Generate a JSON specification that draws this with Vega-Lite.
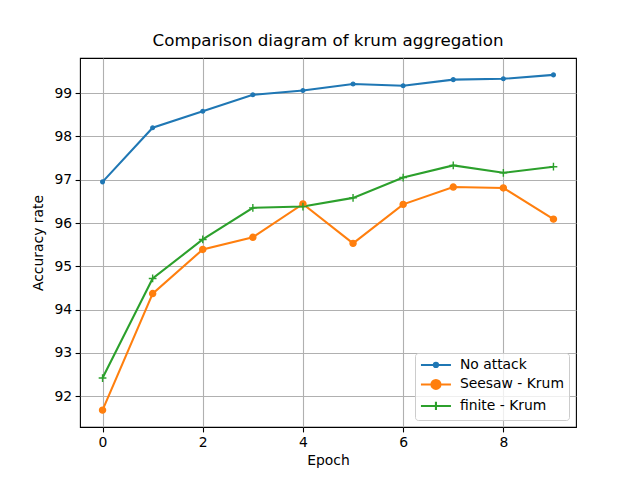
{
  "$schema": "https://vega.github.io/schema/vega-lite/v6.json",
  "width": 496,
  "height": 369,
  "autosize": "none",
  "padding": {"left": 80, "top": 58, "right": 64, "bottom": 53},
  "background": "white",
  "title": {"text": "Comparison diagram of krum aggregation", "font": "DejaVu Sans", "fontSize": 16.7, "fontWeight": "normal", "color": "black", "offset": 8, "anchor": "middle"},
  "config": {
    "view": {"stroke": "black", "strokeWidth": 1.1},
    "axis": {
      "labelFont": "DejaVu Sans", "labelFontSize": 13.9, "labelColor": "black",
      "titleFont": "DejaVu Sans", "titleFontSize": 13.9, "titleColor": "black", "titleFontWeight": "normal",
      "tickColor": "black", "tickSize": 4.9, "tickWidth": 1.1, "labelPadding": 3.5,
      "domain": false, "grid": true, "gridColor": "#b0b0b0", "gridWidth": 1.1
    },
    "legend": {
      "labelFont": "DejaVu Sans", "labelFontSize": 13.9, "labelColor": "black"
    }
  },
  "resolve": {"scale": {"color": "independent", "shape": "independent", "stroke": "independent", "size": "independent"}},
  "data": {"values": [
    {"epoch": 0, "acc": 96.95, "series": "No attack"},
    {"epoch": 1, "acc": 98.20, "series": "No attack"},
    {"epoch": 2, "acc": 98.58, "series": "No attack"},
    {"epoch": 3, "acc": 98.96, "series": "No attack"},
    {"epoch": 4, "acc": 99.06, "series": "No attack"},
    {"epoch": 5, "acc": 99.21, "series": "No attack"},
    {"epoch": 6, "acc": 99.17, "series": "No attack"},
    {"epoch": 7, "acc": 99.31, "series": "No attack"},
    {"epoch": 8, "acc": 99.33, "series": "No attack"},
    {"epoch": 9, "acc": 99.42, "series": "No attack"},
    {"epoch": 0, "acc": 91.68, "series": "Seesaw - Krum"},
    {"epoch": 1, "acc": 94.37, "series": "Seesaw - Krum"},
    {"epoch": 2, "acc": 95.39, "series": "Seesaw - Krum"},
    {"epoch": 3, "acc": 95.67, "series": "Seesaw - Krum"},
    {"epoch": 4, "acc": 96.44, "series": "Seesaw - Krum"},
    {"epoch": 5, "acc": 95.53, "series": "Seesaw - Krum"},
    {"epoch": 6, "acc": 96.43, "series": "Seesaw - Krum"},
    {"epoch": 7, "acc": 96.83, "series": "Seesaw - Krum"},
    {"epoch": 8, "acc": 96.81, "series": "Seesaw - Krum"},
    {"epoch": 9, "acc": 96.09, "series": "Seesaw - Krum"},
    {"epoch": 0, "acc": 92.42, "series": "finite - Krum"},
    {"epoch": 1, "acc": 94.72, "series": "finite - Krum"},
    {"epoch": 2, "acc": 95.62, "series": "finite - Krum"},
    {"epoch": 3, "acc": 96.35, "series": "finite - Krum"},
    {"epoch": 4, "acc": 96.38, "series": "finite - Krum"},
    {"epoch": 5, "acc": 96.58, "series": "finite - Krum"},
    {"epoch": 6, "acc": 97.05, "series": "finite - Krum"},
    {"epoch": 7, "acc": 97.33, "series": "finite - Krum"},
    {"epoch": 8, "acc": 97.16, "series": "finite - Krum"},
    {"epoch": 9, "acc": 97.30, "series": "finite - Krum"}
  ]},
  "encoding": {
    "x": {"field": "epoch", "type": "quantitative", "title": "Epoch",
      "scale": {"domain": [-0.45, 9.45], "nice": false, "zero": false},
      "axis": {"values": [0, 2, 4, 6, 8], "titlePadding": 4}},
    "y": {"field": "acc", "type": "quantitative", "title": "Accuracy rate",
      "scale": {"domain": [91.29, 99.81], "nice": false, "zero": false},
      "axis": {"values": [92, 93, 94, 95, 96, 97, 98, 99], "titlePadding": 8}}
  },
  "layer": [
    {
      "mark": {"type": "line", "strokeWidth": 2.08},
      "encoding": {
        "color": {"field": "series", "type": "nominal",
          "scale": {"domain": ["No attack", "Seesaw - Krum", "finite - Krum"], "range": ["#1f77b4", "#ff7f0e", "#2ca02c"]},
          "legend": null}
      }
    },
    {
      "mark": {"type": "point", "filled": true, "strokeWidth": 1.4, "opacity": 1},
      "encoding": {
        "color": {"field": "series", "type": "nominal", "scale": {"domain": ["No attack", "Seesaw - Krum", "finite - Krum"], "range": ["#1f77b4", "#ff7f0e", "#2ca02c"]}, "legend": null},
        "stroke": {"field": "series", "type": "nominal", "scale": {"domain": ["No attack", "Seesaw - Krum", "finite - Krum"], "range": ["#1f77b4", "#ff7f0e", "#2ca02c"]}, "legend": null},
        "shape": {"field": "series", "type": "nominal", "scale": {"domain": ["No attack", "Seesaw - Krum", "finite - Krum"], "range": ["circle", "circle", "M-1,0H1M0,-1V1"]}, "legend": null},
        "size": {"field": "series", "type": "nominal", "scale": {"domain": ["No attack", "Seesaw - Krum", "finite - Krum"], "range": [13.6, 60, 69.4]}, "legend": null}
      }
    },
    {
      "transform": [{"filter": "false"}],
      "mark": {"type": "point", "filled": true, "strokeWidth": 2.08, "opacity": 1},
      "encoding": {
        "color": {"field": "series", "type": "nominal", "scale": {"domain": ["No attack", "Seesaw - Krum", "finite - Krum"], "range": ["#1f77b4", "#ff7f0e", "#2ca02c"]},
          "legend": {"title": null, "orient": "bottom-right", "offset": 7, "padding": 5, "rowPadding": 3.5, "fillColor": "rgba(255,255,255,0.8)", "strokeColor": "#cccccc", "cornerRadius": 3, "symbolSize": 100, "symbolOffset": 9, "labelOffset": 17, "symbolStrokeWidth": 2.08, "symbolOpacity": 1}},
        "stroke": {"field": "series", "type": "nominal", "scale": {"domain": ["No attack", "Seesaw - Krum", "finite - Krum"], "range": ["#1f77b4", "#ff7f0e", "#2ca02c"]},
          "legend": {"title": null, "orient": "bottom-right", "offset": 7, "padding": 5, "rowPadding": 3.5, "fillColor": "rgba(255,255,255,0.8)", "strokeColor": "#cccccc", "cornerRadius": 3, "symbolSize": 100, "symbolOffset": 9, "labelOffset": 17, "symbolStrokeWidth": 2.08, "symbolOpacity": 1}},
        "shape": {"field": "series", "type": "nominal", "scale": {"domain": ["No attack", "Seesaw - Krum", "finite - Krum"], "range": [
            "M-3,0H3M0.42,0A0.42,0.42 0 1,1 -0.42,0A0.42,0.42 0 1,1 0.42,0Z",
            "M-3,0H3M0.9,0A0.9,0.9 0 1,1 -0.9,0A0.9,0.9 0 1,1 0.9,0Z",
            "M-3,0H3M0,-0.83V0.83"]},
          "legend": {"title": null, "orient": "bottom-right", "offset": 7, "padding": 5, "rowPadding": 3.5, "fillColor": "rgba(255,255,255,0.8)", "strokeColor": "#cccccc", "cornerRadius": 3, "symbolSize": 100, "symbolOffset": 9, "labelOffset": 17, "symbolStrokeWidth": 2.08, "symbolOpacity": 1}}
      }
    }
  ]
}
